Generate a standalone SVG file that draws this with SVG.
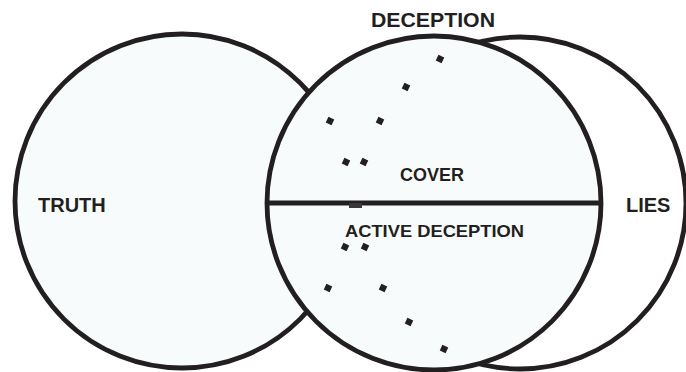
<svg xmlns="http://www.w3.org/2000/svg" width="686" height="372" viewBox="0 0 686 372">
  <style>
    .ring { stroke: #231f20; stroke-width: 4.8; }
    .soft { fill: #f8fbfb; }
    .dot { fill: #231f20; }
    .lbl { font-family: "Liberation Sans", Arial, sans-serif; font-weight: bold; fill: #231f20; }
  </style>
  <defs>
    <rect id="dot" x="-3.2" y="-3.2" width="6.4" height="6.4" transform="rotate(25)"/>
  </defs>
  <rect width="686" height="372" fill="#ffffff"/>

  <g id="lies">
    <circle class="ring" cx="520" cy="203" r="166" fill="#ffffff"/>
    <text class="lbl" x="626" y="212" font-size="20">LIES</text>
  </g>

  <g id="truth">
    <circle class="ring soft" cx="182" cy="201" r="167"/>
    <text class="lbl" x="38" y="212" font-size="20">TRUTH</text>
  </g>

  <g id="deception">
    <circle class="ring soft" cx="434" cy="203" r="167"/>
    <text class="lbl" x="371" y="27" font-size="19.5" textLength="124" lengthAdjust="spacingAndGlyphs">DECEPTION</text>
  </g>

  <g id="connectors">
    <line x1="267" y1="203" x2="601" y2="203" stroke="#231f20" stroke-width="4.8"/>
  </g>

  <g id="cover">
    <text class="lbl" x="400" y="181" font-size="17.5" textLength="64" lengthAdjust="spacingAndGlyphs">COVER</text>
    <g class="dot">
      <use href="#dot" x="440" y="59"/>
      <use href="#dot" x="406" y="87"/>
      <use href="#dot" x="330" y="121"/>
      <use href="#dot" x="380" y="121"/>
      <use href="#dot" x="346" y="162"/>
      <use href="#dot" x="364" y="162"/>
    </g>
  </g>

  <g id="active-deception">
    <rect x="349" y="203" width="13" height="5" fill="#3a3637"/>
    <text class="lbl" x="345" y="237" font-size="17" textLength="179" lengthAdjust="spacingAndGlyphs">ACTIVE DECEPTION</text>
    <g class="dot">
      <use href="#dot" x="345" y="247"/>
      <use href="#dot" x="365" y="247"/>
      <use href="#dot" x="328" y="288"/>
      <use href="#dot" x="383" y="288"/>
      <use href="#dot" x="409" y="322"/>
      <use href="#dot" x="444" y="349"/>
    </g>
  </g>
</svg>
